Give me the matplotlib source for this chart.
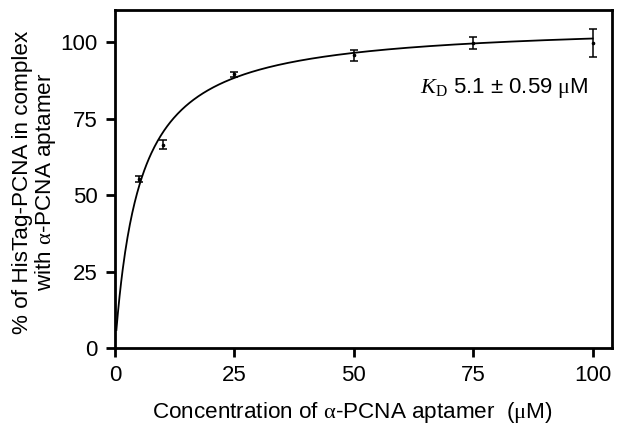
import numpy as np
import matplotlib
matplotlib.use("Agg")
import matplotlib.pyplot as plt

plt.rcParams['font.family'] = ['Liberation Sans', 'DejaVu Sans']
plt.rcParams['mathtext.fontset'] = 'custom'
plt.rcParams['mathtext.rm'] = 'Liberation Sans'
plt.rcParams['mathtext.it'] = 'Liberation Serif:italic'
plt.rcParams['mathtext.cal'] = 'Liberation Serif'
plt.rcParams['mathtext.bf'] = 'Liberation Sans:bold'

# Data
conc = [5, 10, 25, 50, 75, 100]
pct = [55.2, 66.5, 89.5, 95.7, 99.7, 99.8]
err = [1.0, 1.5, 0.7, 1.8, 2.0, 4.7]
kd = 5.1
bmax = 106.4
xticks = [0, 25, 50, 75, 100]
yticks = [0, 25, 50, 75, 100]

fig = plt.figure(figsize=(6.18, 4.25), dpi=100)
ax = fig.add_axes([0.186, 0.181, 0.804, 0.795])

xfit = np.linspace(0.3, 100, 600)
yfit = bmax * xfit / (kd + xfit)
ax.plot(xfit, yfit, color='black', lw=1.3)
ax.errorbar(conc, pct, yerr=err, fmt='o', ms=1.6, color='black',
            ecolor='black', elinewidth=1.1, capsize=3, capthick=1.1)

ax.set_xlim(0, 104)
ax.set_ylim(0, 110.5)
ax.set_xticks(xticks)
ax.set_yticks(yticks)
for s in ax.spines.values():
    s.set_linewidth(2.0)
ax.tick_params(direction='out', width=2.0, length=6.5, labelsize=16, pad=6)

ax.set_ylabel('% of HisTag-PCNA in complex\nwith $\\mathcal{α}$-PCNA aptamer',
              fontsize=16.2, linespacing=1.0, labelpad=0)
ax.yaxis.set_label_coords(-0.115, 0.491)
ax.set_xlabel('Concentration of $\\mathcal{α}$-PCNA aptamer  ($\\mathcal{μ}$M)',
              fontsize=16.2, labelpad=10)
ax.xaxis.label.set_x(0.478)

ax.text(0.614, 0.754, '$K_{\\mathcal{D}}$ 5.1 ± 0.59 $\\mathcal{μ}$M',
        transform=ax.transAxes, fontsize=16, ha='left', va='baseline')

fig.savefig('out.png', dpi=100)
